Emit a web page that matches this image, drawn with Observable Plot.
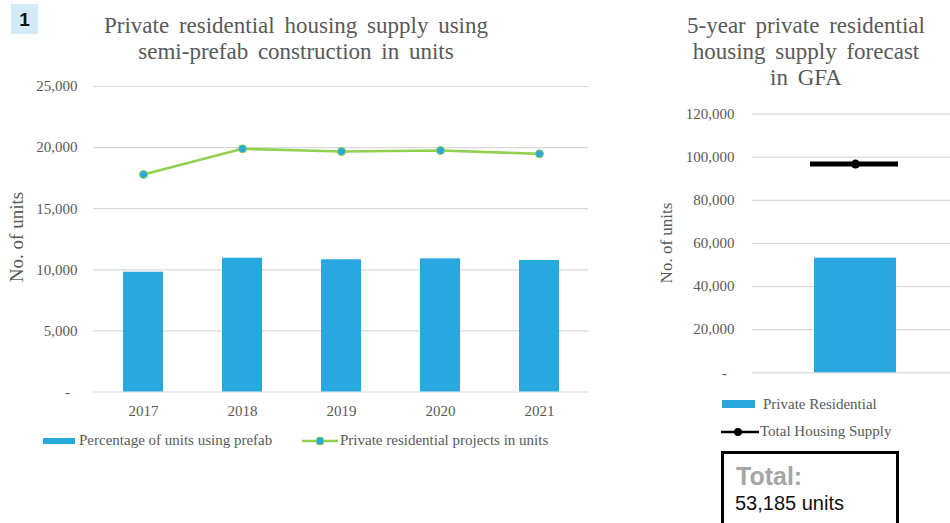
<!DOCTYPE html>
<html>
<head>
<meta charset="utf-8">
<script src="https://cdn.jsdelivr.net/npm/d3@7"></script>
<script src="https://cdn.jsdelivr.net/npm/@observablehq/plot@0.6"></script>
<style>
  html, body { margin: 0; padding: 0; background: #fff; }
  #root { position: relative; width: 950px; height: 523px; overflow: hidden; background: #fff; }
  .abs { position: absolute; }
  .title { font-family: "Liberation Serif", serif; font-size: 23px; color: #595959; text-align: center; line-height: 26px; word-spacing: 4px; white-space: nowrap; }
  .serif15 { font-family: "Liberation Serif", serif; font-size: 15px; color: #595959; white-space: nowrap; }
  .ylab { font-family: "Liberation Serif", serif; color: #595959; white-space: nowrap; transform: translate(-50%, -50%) rotate(-90deg); }
  svg.chart text { font-family: "Liberation Serif", serif !important; font-size: 15px; fill: #595959; }
</style>
</head>
<body>
<div id="root"></div>
<script>
// ---- data ----
const years = ["2017", "2018", "2019", "2020", "2021"];
const prefabUnits = [9800, 10950, 10820, 10900, 10760];          // Percentage of units using prefab (bars)
const projectUnits = [17800, 19900, 19680, 19760, 19490];        // Private residential projects in units (line)
const leftTicks = [0, 5000, 10000, 15000, 20000, 25000];

const forecastCategory = ["Private Residential"];
const privateResidential = [53185];
const totalHousingSupply = [96800];
const rightTicks = [0, 20000, 40000, 60000, 80000, 100000, 120000];

const leftTitle = ["Private residential housing supply using", "semi-prefab construction in units"];
const rightTitle = ["5-year private residential", "housing supply forecast", "in GFA"];
const leftLegend = ["Percentage of units using prefab", "Private residential projects in units"];
const rightLegend = ["Private Residential", "Total Housing Supply"];
const totalLabel = "Total:";
const totalText = "53,185 units";
const yLabel = "No. of units";

const BLUE = "#29a8e0";
const GREEN = "#92d050";
const GRID = "#d9d9d9";

const fmt = d => d === 0 ? "-\u00a0\u00a0" : d3.format(",")(d);

const root = document.getElementById("root");
function addDiv(cls, html, css) {
  const el = document.createElement("div");
  el.className = "abs " + cls;
  el.innerHTML = html;
  Object.assign(el.style, css);
  root.appendChild(el);
  return el;
}
function place(svg, x) {
  svg.classList.add("chart");
  svg.style.position = "absolute";
  svg.style.left = x + "px";
  svg.style.top = "0px";
  svg.style.fontFamily = "'Liberation Serif', serif";
  svg.style.fontSize = "15px";
  svg.style.background = "transparent";
  d3.select(svg).selectAll("text").style("font-family", "'Liberation Serif', serif").style("font-size", "15px");
  root.appendChild(svg);
}

// ---- left chart ----
const leftData = years.map((y, i) => ({year: y, prefab: prefabUnits[i], projects: projectUnits[i]}));
const left = Plot.plot({
  width: 600,
  height: 420,
  marginLeft: 93,
  marginRight: 12,
  marginTop: 86,
  marginBottom: 28.5,
  style: {color: "#595959", background: "transparent", overflow: "visible"},
  x: {type: "band", domain: years, paddingInner: 0.6, paddingOuter: 0.3},
  y: {domain: [0, 25000]},
  marks: [
    Plot.gridY(leftTicks, {stroke: GRID, strokeOpacity: 1, strokeWidth: 1.2}),
    Plot.barY(leftData, {x: "year", y: "prefab", fill: BLUE}),
    Plot.line(leftData, {x: "year", y: "projects", stroke: GREEN, strokeWidth: 2.6}),
    Plot.dot(leftData, {x: "year", y: "projects", r: 4, fill: BLUE, stroke: GREEN, strokeWidth: 1}),
    Plot.axisX({tickSize: 0, tickPadding: 13, label: null}),
    Plot.axisY({ticks: leftTicks, tickSize: 0, tickPadding: 16, tickFormat: fmt, label: null})
  ]
});
place(left, 0);

// ---- right chart ----
const rightData = forecastCategory.map((c, i) => ({cat: c, priv: privateResidential[i], total: totalHousingSupply[i]}));
const right = Plot.plot({
  width: 318,
  height: 380,
  marginLeft: 112,
  marginRight: 0,
  marginTop: 113.6,
  marginBottom: 7.7,
  style: {color: "#595959", background: "transparent", overflow: "visible"},
  x: {type: "band", domain: forecastCategory, paddingInner: 0.6, paddingOuter: 0.3, axis: null},
  y: {domain: [0, 120000]},
  marks: [
    Plot.gridY(rightTicks, {stroke: GRID, strokeOpacity: 1, strokeWidth: 1.2}),
    Plot.barY(rightData, {x: "cat", y: "priv", fill: BLUE}),
    Plot.tickY(rightData, {x: "cat", y: "total", stroke: "#000", strokeWidth: 5, insetLeft: -4, insetRight: -2}),
    Plot.dot(rightData, {x: "cat", y: "total", r: 4.5, fill: "#000"}),
    Plot.axisY({ticks: rightTicks, tickSize: 0, tickPadding: 18, tickFormat: fmt, label: null})
  ]
});
place(right, 640);

// ---- titles ----
addDiv("title", leftTitle.join("<br>"), {left: "96px", width: "400px", top: "13px"});
addDiv("title", rightTitle.join("<br>"), {left: "656px", width: "300px", top: "13px"});

// ---- badge ----
addDiv("", "1", {left: "11px", top: "4px", width: "27px", height: "30px", background: "#d4eaf7",
  fontFamily: "Liberation Sans, Arial, sans-serif", fontWeight: "bold", fontSize: "19px", color: "#111",
  textAlign: "center", lineHeight: "31px"});

// ---- y labels ----
addDiv("ylab", yLabel, {left: "17px", top: "237px", fontSize: "19px"});
addDiv("ylab", yLabel, {left: "667px", top: "243px", fontSize: "17px"});

// ---- left legend ----
addDiv("", "", {left: "43px", top: "438px", width: "32px", height: "6px", background: BLUE});
addDiv("serif15", leftLegend[0], {left: "79px", top: "432px"});
addDiv("", `<svg width="36" height="12"><line x1="0" y1="6" x2="36" y2="6" stroke="${GREEN}" stroke-width="2.6"/><circle cx="18" cy="6" r="4" fill="${BLUE}" stroke="${GREEN}" stroke-width="1"/></svg>`,
  {left: "302px", top: "435px", width: "36px", height: "12px", lineHeight: "0"});
addDiv("serif15", leftLegend[1], {left: "340px", top: "432px"});

// ---- right legend ----
addDiv("", "", {left: "722px", top: "400px", width: "33px", height: "8px", background: BLUE});
addDiv("serif15", rightLegend[0], {left: "763px", top: "396px"});
addDiv("", `<svg width="38" height="12"><line x1="0" y1="6" x2="38" y2="6" stroke="#000" stroke-width="2.6"/><circle cx="17" cy="6" r="4" fill="#000"/></svg>`,
  {left: "721px", top: "426px", width: "38px", height: "12px", lineHeight: "0"});
addDiv("serif15", rightLegend[1], {left: "760px", top: "423px"});

// ---- total box ----
addDiv("", "", {left: "721px", top: "451px", width: "172px", height: "90px", border: "3px solid #000", background: "#fff"});
addDiv("", totalLabel, {left: "736px", top: "461px", fontFamily: "Liberation Sans, Arial, sans-serif", fontWeight: "bold", fontSize: "25px", color: "#a6a6a6", lineHeight: "30px"});
addDiv("", totalText, {left: "735px", top: "491px", fontFamily: "Liberation Sans, Arial, sans-serif", fontSize: "20px", color: "#111", lineHeight: "24px"});
</script>
</body>
</html>
